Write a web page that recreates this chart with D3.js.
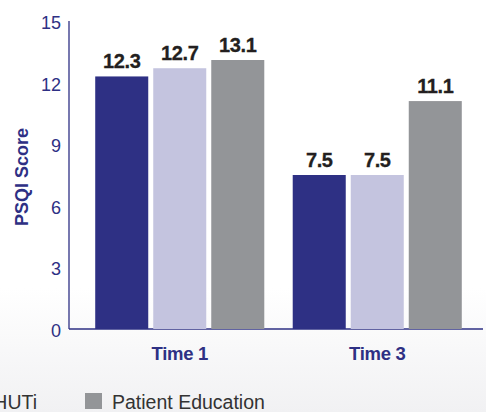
<!DOCTYPE html>
<html>
<head>
<meta charset="utf-8">
<script src="https://cdn.jsdelivr.net/npm/d3@7"></script>
<style>
  html, body { margin: 0; padding: 0; background: #fff; overflow: hidden; }
</style>
</head>
<body>
<div id="chart"></div>
<script>
const width = 486
const height = 412

// data
const times = ["Time 1", "Time 3"]
const grupos = ["SHUTi", "SHUTi+", "Patient Education"]
const valores_time1 = [12.3, 12.7, 13.1]
const valores_time3 = [7.5, 7.5, 11.1]
const yTicks = [0, 3, 6, 9, 12, 15]
const legendLabels = ["SHUTi", "Patient Education"]

const colores = ["#2e3084", "#c4c4df", "#939598"]
const navy = "#2e3084"

const filas = times.map((t, i) => ({
    time: t,
    valores: (i === 0 ? valores_time1 : valores_time3).map((v, j) => ({ grupo: grupos[j], v: v }))
}))

const svg = d3.select("#chart").append("svg")
    .attr("width", width)
    .attr("height", height)

// soft grey fade at the bottom
const defs = svg.append("defs")
const grad = defs.append("linearGradient")
    .attr("id", "fondo")
    .attr("x1", 0).attr("y1", 0).attr("x2", 0).attr("y2", 1)
grad.append("stop").attr("offset", "0%").attr("stop-color", "#ffffff")
grad.append("stop").attr("offset", "70%").attr("stop-color", "#ffffff")
grad.append("stop").attr("offset", "100%").attr("stop-color", "#f1f1f3")

svg.append("rect")
    .attr("width", width)
    .attr("height", height)
    .attr("fill", "url(#fondo)")

const y = d3.scaleLinear()
    .domain([0, 15])
    .range([329, 21])

const x0 = d3.scaleBand()
    .domain(times)
    .range([81, 476])
    .paddingInner(0.144)
    .paddingOuter(0.072)

const x1 = d3.scaleBand()
    .domain(grupos)
    .range([0, x0.bandwidth()])
    .paddingInner(0.086)

const color = d3.scaleOrdinal()
    .domain(grupos)
    .range(colores)

// y axis
const yAxis = svg.append("g")
    .attr("transform", "translate(69,0)")
    .call(d3.axisLeft(y).tickValues(yTicks).tickSize(0).tickPadding(8))

yAxis.select(".domain")
    .attr("stroke", navy)
    .attr("stroke-width", 1.3)
    .attr("d", `M0,${y(15)}V${y(0)}`)

yAxis.selectAll("text")
    .attr("fill", navy)
    .attr("font-family", "Liberation Sans, Arial, sans-serif")
    .attr("font-size", 18)
    .attr("dy", "0.42em")

// baseline
svg.append("line")
    .attr("x1", 69).attr("x2", 483)
    .attr("y1", y(0)).attr("y2", y(0))
    .attr("stroke", navy)
    .attr("stroke-width", 1.3)

svg.append("text")
    .attr("transform", `translate(28,${(y(15) + y(0)) / 2 + 2}) rotate(-90)`)
    .attr("text-anchor", "middle")
    .attr("fill", navy)
    .attr("font-family", "Liberation Sans, Arial, sans-serif")
    .attr("font-weight", "bold")
    .attr("font-size", 18)
    .text("PSQI Score")

// bars
const grupo = svg.selectAll(".time")
    .data(filas)
    .join("g")
    .attr("class", "time")
    .attr("transform", d => `translate(${x0(d.time)},0)`)

grupo.selectAll("rect")
    .data(d => d.valores)
    .join("rect")
    .attr("x", d => x1(d.grupo))
    .attr("y", d => y(d.v))
    .attr("width", x1.bandwidth())
    .attr("height", d => y(0) - y(d.v))
    .attr("fill", d => color(d.grupo))

grupo.selectAll(".valor")
    .data(d => d.valores)
    .join("text")
    .attr("class", "valor")
    .attr("x", d => x1(d.grupo) + x1.bandwidth() / 2)
    .attr("y", d => y(d.v) - 8)
    .attr("text-anchor", "middle")
    .attr("fill", "#231f20")
    .attr("font-family", "Liberation Sans, Arial, sans-serif")
    .attr("font-weight", "bold")
    .attr("font-size", 20)
    .attr("letter-spacing", -0.4)
    .attr("stroke", "#231f20")
    .attr("stroke-width", 0.3)
    .text(d => d.v.toFixed(1))

// x labels
svg.selectAll(".xlabel")
    .data(times)
    .join("text")
    .attr("class", "xlabel")
    .attr("x", d => x0(d) + x0.bandwidth() / 2)
    .attr("y", 360)
    .attr("text-anchor", "middle")
    .attr("fill", navy)
    .attr("font-family", "Liberation Sans, Arial, sans-serif")
    .attr("font-weight", "bold")
    .attr("font-size", 18.5)
    .attr("letter-spacing", -0.3)
    .text(d => d)

// legend (cut by the frame, as in the picture)
svg.append("text")
    .attr("x", 37)
    .attr("y", 409)
    .attr("text-anchor", "end")
    .attr("fill", "#333")
    .attr("font-family", "Liberation Sans, Arial, sans-serif")
    .attr("font-size", 19.5)
    .text(legendLabels[0])

svg.append("rect")
    .attr("x", 85).attr("y", 393)
    .attr("width", 17).attr("height", 16)
    .attr("fill", color(grupos[2]))

svg.append("text")
    .attr("x", 112)
    .attr("y", 409)
    .attr("fill", "#333")
    .attr("font-family", "Liberation Sans, Arial, sans-serif")
    .attr("font-size", 19.5)
    .text(legendLabels[1])
</script>
</body>
</html>
